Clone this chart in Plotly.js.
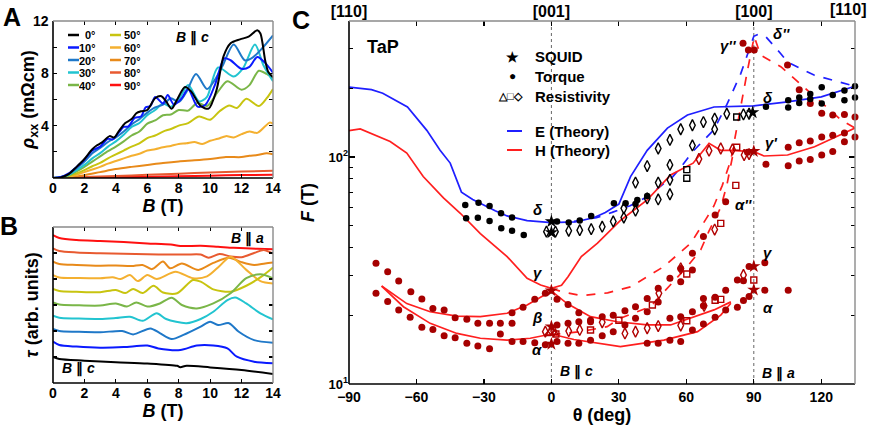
<!DOCTYPE html>
<html><head><meta charset="utf-8">
<script src="https://cdn.plot.ly/plotly-3.0.1.min.js"></script>
<style>html,body{margin:0;padding:0;background:#fff}#chart{width:872px;height:428px}</style>
</head><body><div id="chart"></div>
<script>
// ===== Panel A: rho_xx vs B for field angles =====
const angleLabels = ['0°','10°','20°','30°','40°','50°','60°','70°','80°','90°'];
const angleColors = ['#000000','#0a1aff','#1f78c8','#22c4d0','#7ab648','#c8c410','#f4b030','#e88a1a','#e85a30','#ff1010'];

const A_B_0 = [0,0.5,1,1.5,2,2.5,2.8,3.1,3.6,3.9,4.2,4.6,5.0,5.3,5.6,6.0,6.5,6.9,7.2,7.55,7.9,8.4,8.8,9.4,9.9,10.4,10.85,11.3,11.9,12.45,13.0,13.2,13.5,13.7,14.0];
const A_rho_0 = [0,0.05,0.3,0.85,1.45,2.2,2.5,2.7,3.2,3.1,3.6,4.2,4.5,4.95,5.1,5.2,6.1,6.25,5.85,5.3,6.0,6.95,6.6,5.5,5.3,6.7,9.3,10.3,10.6,10.8,11.3,11.05,9.0,8.1,7.7];
const A_B_10 = [0,0.5,1,1.5,2,2.5,3.0,3.5,3.8,4.2,4.5,4.8,5.2,5.6,5.9,6.2,6.5,7.0,7.3,7.7,8.2,8.6,9.2,9.7,10.3,10.9,11.3,12.0,12.5,13.0,13.5,14.0];
const A_rho_10 = [0,0.08,0.35,0.85,1.4,2.1,2.4,3.0,2.95,3.5,3.9,3.95,4.6,4.7,5.4,5.5,6.2,5.7,6.35,5.6,6.1,6.8,5.45,5.6,7.1,9.15,9.0,8.35,8.5,9.25,8.8,8.05];
const A_B_20 = [0,0.5,1,1.5,2,2.5,3,3.5,4,4.5,5,5.5,6,6.5,7,7.5,8,8.5,9.1,9.8,10.3,10.8,11.5,12.2,12.7,13.3,14];
const A_rho_20 = [0,0.07,0.3,0.75,1.25,1.9,2.3,2.75,3.1,3.55,4.1,4.5,5.0,5.4,5.6,6.1,5.8,6.6,7.95,6.8,7.5,8.6,10.2,9.0,9.2,9.9,10.9];
const A_B_30 = [0,0.5,1,1.5,2,2.5,3,3.5,4,4.5,5,5.5,6,6.5,7,7.5,8.1,8.6,9.3,9.8,10.5,11.5,12.1,12.85,13.4,14];
const A_rho_30 = [0,0.05,0.25,0.6,1.0,1.5,1.9,2.4,2.8,3.3,3.9,4.2,4.8,5.2,5.7,5.45,6.2,7.1,5.85,6.2,8.45,7.75,8.4,10.2,8.6,7.4];
const A_B_40 = [0,0.5,1,1.5,2,2.5,3,3.5,4,4.5,5,5.5,6,6.5,7,7.5,8,8.6,9.2,9.8,10.5,11.1,12.0,12.5,13.1,13.6,14];
const A_rho_40 = [0,0.04,0.2,0.5,0.85,1.25,1.65,2.05,2.4,2.8,3.25,3.55,4.15,4.4,4.8,4.85,5.2,5.15,5.75,5.5,6.6,7.4,6.75,7.1,8.2,7.95,7.6];
const A_B_50 = [0,0.5,1,1.5,2,2.5,3,3.5,4,4.5,5,5.5,6,6.5,7,7.5,8,8.6,9.3,10,10.6,11.2,11.7,12.3,13.1,13.6,14];
const A_rho_50 = [0,0.03,0.15,0.35,0.6,0.9,1.15,1.5,1.8,2.1,2.4,2.65,3.05,3.25,3.55,3.75,4.0,4.2,4.7,4.45,5.1,5.55,5.35,6.05,5.5,6.1,6.8];
const A_B_60 = [0,0.5,1,1.5,2,2.5,3,3.5,4,4.5,5,5.5,6,6.5,7,7.5,8,8.5,9,9.5,10,10.5,11,11.5,12,12.5,13,13.5,13.8,14];
const A_rho_60 = [0,0.02,0.1,0.25,0.45,0.65,0.85,1.1,1.3,1.5,1.7,1.85,2.1,2.2,2.35,2.45,2.6,2.65,2.75,2.6,2.85,3.0,3.2,3.1,3.35,3.55,3.45,3.95,4.25,4.15];
const A_B_70 = [0,1,2,3,4,5,6,7,8,9,10,11,12,12.5,13,13.6,14];
const A_rho_70 = [0,0.05,0.22,0.45,0.68,0.85,1.0,1.15,1.27,1.35,1.45,1.6,1.6,1.7,1.75,1.9,1.82];
const A_B_80 = [0,2,4,6,8,10,12,14];
const A_rho_80 = [0,0.07,0.15,0.25,0.33,0.42,0.5,0.55];
const A_B_90 = [0,2,4,6,8,10,12,14];
const A_rho_90 = [0,0.04,0.07,0.1,0.14,0.18,0.22,0.25];
const A_yRange = [0, 12];
const A_yLabelTicks = [4,8,12];
const A_yMinorTicks = [2,6,10];

// ===== Panel B: torque (offset curves, arb. units) =====
const T_B_0 = [0,0.4,2,4,6,7.9,8.1,8.5,10,12,14];
const T_0 = [1.0,0.92,0.86,0.80,0.75,0.66,0.61,0.66,0.60,0.50,0.35];
const T_B_10 = [0,0.4,1.5,3,4.5,6,6.7,8.1,9.15,10.2,11.1,11.7,12.8,14];
const T_10 = [1.59,1.46,1.40,1.36,1.38,1.44,1.33,1.27,1.44,1.44,1.33,1.01,0.82,0.76];
const T_B_20 = [0,0.4,1.5,3,4.4,5.1,6.2,6.8,7.55,8.3,9.4,10.0,10.5,11.2,11.8,12.8,14];
const T_20 = [2.08,2.0,1.97,1.95,2.0,1.87,2.10,1.92,1.69,1.85,2.17,2.36,2.23,2.30,1.98,1.65,1.55];
const T_B_30 = [0,0.4,1.5,3,4.0,4.9,5.7,6.6,7.2,8.5,9.4,10.2,11.1,11.6,12.3,13.2,14];
const T_30 = [2.59,2.51,2.48,2.46,2.50,2.55,2.39,2.68,2.46,2.30,2.46,2.74,3.19,3.29,3.06,2.68,2.45];
const T_B_40 = [0,0.4,1.5,3,4.0,4.7,5.3,6.0,6.8,7.55,8.2,9.15,10.2,11.3,12.3,13.2,14];
const T_40 = [3.10,3.02,2.99,2.98,3.06,2.94,3.10,2.94,3.06,3.28,3.0,2.87,3.06,3.45,4.03,4.18,4.03];
const T_B_50 = [0,0.4,1.5,3,4.0,4.6,5.1,5.7,6.4,7.0,7.9,8.9,9.4,10.2,11.3,12.3,13.4,14];
const T_50 = [3.62,3.54,3.51,3.49,3.58,3.46,3.62,3.46,3.74,3.48,3.45,3.96,3.90,3.60,3.51,3.74,4.15,4.44];
const T_B_60 = [0,0.4,1.5,3,3.8,4.3,4.9,5.4,6.0,6.6,7.8,8.9,9.8,10.6,11.3,12.3,13.2,14];
const T_60 = [4.15,4.06,4.04,4.03,4.07,4.0,4.15,3.92,4.15,4.0,4.28,4.03,4.1,4.5,4.86,4.35,3.92,3.83];
const T_B_70 = [0,0.4,1.5,3,4,5,5.7,6.3,7.0,7.45,8.2,9.25,10.2,11.2,12.0,12.8,13.5,14];
const T_70 = [4.67,4.58,4.54,4.51,4.52,4.50,4.54,4.38,4.67,4.41,4.60,4.35,4.62,4.82,4.65,4.54,4.60,4.63];
const T_B_80 = [0,0.4,1.5,3,4.5,6,7.5,8.5,9.4,9.9,10.6,11.3,12,12.8,13.4,14];
const T_80 = [5.18,5.08,5.02,4.99,4.97,4.95,4.94,4.94,4.94,4.82,4.96,4.87,4.84,5.0,5.12,4.98];
const T_B_90 = [0,0.4,1.5,3,4.5,6,7.5,8.1,9.4,10.5,11.5,13,14];
const T_90 = [5.69,5.58,5.50,5.46,5.42,5.37,5.33,5.27,5.28,5.24,5.20,5.16,5.14];

// ===== Panel C: angular dependence of frequencies (theta deg, F tesla) =====
const E_th = [-90,-80,-75,-64,-55.4,-49.5,-45,-40.5,-40,-35,-31.6,-25,-19.7,-10.8,0,10.6,18.8,24,27.7,30,35.2,42.6,51.6,60.5,72.3,80,90,105,120,135];
const E_F  = [203,198,191,166,131,107,94,72,70,65,62.5,58,55,52.4,51.4,51.8,54,57,60,62,82,107,134,153,166,167,168,175,184,205];
const Ed_th = [10,20,27,35,42.6,54,57.5,63,72.3,78,84.2,90,92,95.4,102,105,117,135];
const Ed_F  = [52,54,57,61,66.8,82,90,106,132,170,233,340,347,338,285,262,229,205];
const H_th = [-90,-85,-71.7,-64.3,-57,-48,-40.5,-31.6,-19.7,-10.8,-4.8,0,4.5,7.4,13.3,20.5,30.7,42.6,53,63,70.1,75.3,79.8,90,94.5,105,117,135];
const H_F  = [130.6,133,117,104,82,66,56.5,46,36.4,29.2,27.3,26.4,27.2,29.7,36.4,41.7,52.5,64.7,83.3,93.9,114.8,107,107,105.5,101,102,111,134];
const Hd1_th = [0,4.5,13.3,25,35.2,50,62,66,69.4,72.3,76,79.8,83.5,87.2,90.2,93,102,117,129,135];
const Hd1_F  = [26.4,25.5,24.5,25.2,26.8,32.9,41.7,48,54.6,61,75,97,156,241,339,281,250,184,145,134];
const Hd2_th = [0,13,24.8,30.7,44,50,60.5,66.4,70,75.3,78,80.5];
const Hd2_F  = [16.5,17,17.9,19.5,21.9,25.5,33,39,47,60,75,100];
const Hb_th = [-75.5,-64.3,-53.9,-42,-31.6,-19.7,-10.8,0,7,17.4,29.3,42.6,53,63.4,72.3,79.8];
const Hb_F  = [27,22.6,20.8,19.9,19.8,20.5,22.3,25.7,22.6,19.8,18.8,18.2,18.2,19.8,21.2,23];
const Ha_th = [-75.5,-65.8,-53.9,-42,-31.6,-19.7,-9.4,0,10,24.8,30.7,50,65,75.3,79.8];
const Ha_F  = [27,21.9,18.5,16.7,15.9,15.6,15.9,16.6,15.7,14.9,14.6,15.6,17,20.1,22.7];

const torqueH = [[-78,34],[-72.8,31.2],[-67.9,28.4],[-62.5,25.5],[-57.6,23.7],[-52.7,21.5],[-47.7,21.2],[-42.8,19.6],[-37.6,19.3],[-32.7,18.5],[-27.5,18.5],[-22.7,18.5],[-17.5,18.5],[-17.5,20.6],[-12.6,21.8],[-7.4,23.6],[-2.7,25.1],
 [-78,25.1],[-72.8,23.1],[-67.9,21.2],[-62.8,19.7],[-57.6,17.8],[-52.7,17.4],[-47.7,16.3],[-42.8,16.0],[-37.6,15.1],[-32.7,14.7],[-27.5,14.3],[-22.7,16.6],[-17.5,15.4],[-12.6,15.4],[-7.4,15.2],[-2.7,14.9],
 [2.5,23.6],[7.4,22.4],[12.2,20.6],[17.4,19.1],[2.5,18.2],[7.4,18.5],[12.2,18.8],[17.4,18.8],[2.5,15.4],[7.4,15.1],[12.2,15.1],[17.4,15.6],
 [22.6,19.8],[22.6,16.3],[27.5,20.1],[27.5,17.0],[32.7,21.0],[32.7,18.2],[37.4,21.9],[37.4,19.5],[42.6,23.8],[42.6,20.8],[42.6,15.1],[47.5,26.4],[47.5,23.0],[47.5,15.1],
 [52.7,29.2],[52.7,19.5],[52.7,15.6],[57.5,32.3],[57.5,28.2],[57.5,19.8],[57.5,15.4],[62.7,37.7],[62.7,31.8],[62.7,20.8],[62.7,17.3],[67.6,44.6],[67.6,23.8],[67.6,22.1],[67.6,18.4],
 [72.8,55.5],[72.8,24.1],[72.8,19.7],[77.5,63.5],[77.5,25.9],[77.5,21.2],[82.7,28.7],[82.7,21.8],[85.4,28.5],[85.4,23.3],[87.9,32.9],[87.9,24.3],[94.9,34.2],[94.9,25.9],[105.3,25.9],
 [85.2,317],[87.6,296],[90.2,296],[105,254],[110.2,198],[115.1,172],[120.2,156],[125.1,153],[130.3,154],[135,150],
 [87.2,105],[95.4,93],[105.3,91.4],[110.2,96],[115.1,97.5],[120.2,102],[125.1,105.6],[130.3,116.8],[135,122.5],[105.3,110.3],[110.2,115.5],[115.1,117.7],[120.2,122.5],[125.1,124.6],[130.3,127.5]];
const torqueE = [[-38.3,61.5],[-32.4,62.8],[-27.5,60.8],[-22.4,56.5],[-17.5,54.1],[-37.9,53.7],[-32.7,54],[-27.5,52.3],[-22.3,48.5],[-17.5,47.3],[-12.3,45.3],[2.5,52],[7.7,51.4],[12.6,52.5],[17.7,55],[27.8,62.5],[33,62.5],[38.2,64.7],[37.4,62],[42.6,67.3],
 [95.4,166.5],[105.3,165],[105.3,178],[110.2,183],[110.2,173],[115.1,189.6],[115.1,180],[120.2,203],[120.2,172],[125.1,187.7],[130.3,196.5],[130.3,178],[135,205],[135,183]];
const squidE = [[0,52],[0,46.5],[89.5,157]];
const squidH = [[0,25.8],[0,17.9],[0,15],[90,106],[90,33],[90,26]];
const resDiaE = [[-2.2,46.9],[1.8,46.9],[7.7,47.3],[12.6,47.6],[17.7,48.1],[22.6,49.3],[27.5,52],[32.2,54.1],[32.2,59.4],[37.4,58],[37.4,77.1],[42.6,91.2],[42.6,65.7],[47.5,109],[47.5,77.1],[47.5,65],[52.7,118.9],[52.7,92.3],[52.7,79.3],[52.7,68.5],[57.5,132.5],[62.7,138],[62.7,112.4],[67.6,142.5],[72.6,147.6],[72.6,132.5],[78,155],[85.4,154],[87.9,155]];
const resSqE = [[60.2,88],[60.2,80.6],[82.4,150]];
const resDiaH = [[65.6,98],[70.1,106.6],[75.3,109],[80.5,108],[85.7,102],[87.9,103],[72.6,47.9],[57.5,32.3],[47.8,25.1],[32.7,16.7],[37.4,17],[42.6,17.6],[47.5,18],[57.5,18.1],[67.9,22.1],[85.4,30.2],[-2.7,17],[1,17.1],[7.7,17.1],[12.6,17.3],[22.6,18.7]];
const resSqH = [[82.4,110.4],[82,75],[75.3,51],[60.2,30.5],[44.9,22.3],[60.2,19],[72.8,23.4],[75.3,23.6],[90,28.7],[17.4,17.3],[30,19.1],[2,16.6]];
const resTriH = [[-1.5,16.6],[1.5,16.8]];

const C_yLabelTicks = [10,100];
const C_yLabelText = ['10<sup>1</sup>','10<sup>2</sup>'];
const C_yMinorTicks = [20,30,40,50,60,70,80,90,200,300];
const topDirTicks = [-90,0,90];
const topDirLabels = ['[110]','[001]','[100]'];

// ===== build =====
const FONT = 'Liberation Sans, Arial, sans-serif';
const traces = [];
const Acurves = [[A_B_0,A_rho_0],[A_B_10,A_rho_10],[A_B_20,A_rho_20],[A_B_30,A_rho_30],[A_B_40,A_rho_40],[A_B_50,A_rho_50],[A_B_60,A_rho_60],[A_B_70,A_rho_70],[A_B_80,A_rho_80],[A_B_90,A_rho_90]];
const Bcurves = [[T_B_0,T_0],[T_B_10,T_10],[T_B_20,T_20],[T_B_30,T_30],[T_B_40,T_40],[T_B_50,T_50],[T_B_60,T_60],[T_B_70,T_70],[T_B_80,T_80],[T_B_90,T_90]];
for (let i = 9; i >= 0; i--) {
  traces.push({x:Acurves[i][0], y:Acurves[i][1], xaxis:'x', yaxis:'y', mode:'lines', name:angleLabels[i],
    line:{color:angleColors[i], width:2, shape:'spline', smoothing:0.8}, showlegend:false, hoverinfo:'skip'});
}
for (let i = 9; i >= 0; i--) {
  traces.push({x:Bcurves[i][0], y:Bcurves[i][1], xaxis:'x2', yaxis:'y2', mode:'lines', name:angleLabels[i],
    line:{color:angleColors[i], width:2, shape:'spline', smoothing:0.8}, showlegend:false, hoverinfo:'skip'});
}
const BLUE = '#1f1fff', RED = '#ff1f1f', DRED = '#a60000';
function lineC(th, F, color, dash) {
  traces.push({x:th, y:F, xaxis:'x3', yaxis:'y3', mode:'lines', line:{color:color, width:1.7, dash:dash}, showlegend:false, hoverinfo:'skip'});
}
lineC(E_th, E_F, BLUE, 'solid');
lineC(Ed_th, Ed_F, BLUE, 'dash');
lineC(H_th, H_F, RED, 'solid');
lineC(Hd1_th, Hd1_F, RED, 'dash');
lineC(Hd2_th, Hd2_F, RED, 'dash');
lineC(Hb_th, Hb_F, RED, 'solid');
lineC(Ha_th, Ha_F, RED, 'solid');
function ptsC(arr, symbol, color, size, lw) {
  traces.push({x:arr.map(p=>p[0]), y:arr.map(p=>p[1]), xaxis:'x3', yaxis:'y3', mode:'markers',
    marker:{symbol:symbol, color:color, size:size, line:{color:color, width:lw||0}}, showlegend:false, hoverinfo:'skip', cliponaxis:false});
}
ptsC(torqueH, 'circle', DRED, 7);
ptsC(torqueE, 'circle', '#000', 6.5);
ptsC(resDiaE, 'diamond-tall-open', '#000', 8, 1.4);
ptsC(resSqE, 'square-open', '#000', 6, 1.4);
ptsC(resDiaH, 'diamond-tall-open', '#b00000', 8, 1.4);
ptsC(resSqH, 'square-open', '#b00000', 6, 1.4);
ptsC(resTriH, 'triangle-up-open', '#b00000', 6, 1.4);
ptsC(squidE, 'star', '#000', 10);
ptsC(squidH, 'star', DRED, 10);
traces.push({x:[null], y:[null], xaxis:'x4', yaxis:'y3', mode:'markers', showlegend:false, hoverinfo:'skip'});

const tickF = {family:FONT, size:14, color:'#000', weight:'bold'};
const titleF = {family:FONT, size:18, color:'#000', weight:'bold'};
const minorBase = {ticks:'inside', ticklen:3, tickwidth:1, tickcolor:'#000', showgrid:false};
const baseAx = {showgrid:false, zeroline:false, showline:false, ticks:'inside', ticklen:4, tickwidth:1.2, tickcolor:'#000', mirror:'ticks', tickfont:tickF, ticklabeloverflow:'allow'};

const W = 872, Hh = 428;
const px = v => v / W, py = v => 1 - v / Hh;
const A_yDomain = [py(178), py(21)];

const layout = {
  width:W, height:Hh, margin:{l:0,r:0,t:0,b:0}, paper_bgcolor:'#fff', plot_bgcolor:'rgba(0,0,0,0)',
  font:{family:FONT, color:'#000'}, showlegend:false,
  xaxis: Object.assign({}, baseAx, {domain:[px(53), px(273)], anchor:'y', range:[0,14], tickvals:[0,2,4,6,8,10,12,14],
    title:{text:'<i>B</i> (T)', font:titleF, standoff:2}}),
  yaxis: Object.assign({}, baseAx, {domain:A_yDomain, anchor:'x', range:A_yRange, tickmode:'array', tickvals:A_yLabelTicks,
    showticklabels:false,
    minor:Object.assign({tickvals:A_yMinorTicks}, minorBase, {ticklen:4}),
    title:{text:'<i>ρ</i><sub>xx</sub> (mΩcm)', font:titleF, standoff:12}}),
  xaxis2: Object.assign({}, baseAx, {domain:[px(53), px(273)], anchor:'y2', range:[0,14], tickvals:[0,2,4,6,8,10,12,14],
    title:{text:'<i>B</i> (T)', font:titleF, standoff:2}}),
  yaxis2: Object.assign({}, baseAx, {domain:[py(383), py(227)], anchor:'x2', range:[0,6], tickvals:[1,2,3,4,5],
    showticklabels:false, title:{text:'<i>τ</i> (arb. units)', font:titleF, standoff:8}}),
  xaxis3: Object.assign({}, baseAx, {domain:[px(349), px(855)], anchor:'y3', range:[-90,135], tickvals:[-90,-60,-30,0,30,60,90,120],
    ticklen:5, ticklabelstandoff:3, title:{text:'θ (deg)', font:titleF, standoff:3}}),
  yaxis3: Object.assign({}, baseAx, {domain:[py(384), py(21)], anchor:'x3', type:'log', range:[1, 2.599], ticklen:6,
    tickmode:'array', tickvals:C_yLabelTicks, ticktext:C_yLabelText,
    minor:Object.assign({tickvals:C_yMinorTicks}, minorBase, {ticklen:4}),
    tickfont:{family:FONT, size:13, color:'#000', weight:'bold'}, title:{text:'<i>F</i> (T)', font:titleF, standoff:9}}),
  xaxis4: {overlaying:'x3', anchor:'y3', side:'top', range:[-90,135], showgrid:false, zeroline:false, showline:false,
    ticks:'', tickmode:'array', tickvals:topDirTicks, ticktext:topDirLabels, ticklabeloverflow:'allow',
    tickfont:{family:FONT, size:16, color:'#000', weight:'bold'}},
  shapes: [],
  annotations: []
};

// y tick labels of panel A: value mapped through the axis range onto its domain, just left of the axis
A_yLabelTicks.forEach(v => {
  const frac = (v - A_yRange[0]) / (A_yRange[1] - A_yRange[0]);
  const yp = A_yDomain[0] + frac * (A_yDomain[1] - A_yDomain[0]);
  layout.annotations.push({text:'<b>' + v + '</b>', xref:'paper', x:px(51), xanchor:'right',
    yref:'paper', y:yp, yanchor:'middle', showarrow:false, font:{family:FONT, size:14, color:'#000'}});
});

// frames: left/bottom black, top/right grey
[['x','y'],['x2','y2'],['x3','y3']].forEach(([xa,ya]) => {
  const xr = xa + ' domain', yr = ya + ' domain';
  layout.shapes.push({type:'line', xref:xr, yref:yr, x0:0, x1:0, y0:0, y1:1, line:{color:'#000', width:1.6}});
  layout.shapes.push({type:'line', xref:xr, yref:yr, x0:0, x1:1, y0:0, y1:0, line:{color:'#000', width:1.6}});
  layout.shapes.push({type:'line', xref:xr, yref:yr, x0:0, x1:1, y0:1, y1:1, line:{color:'#8a8a8a', width:1.4}});
  layout.shapes.push({type:'line', xref:xr, yref:yr, x0:1, x1:1, y0:0, y1:1, line:{color:'#8a8a8a', width:1.4}});
});
// reference directions in C
[0, 90].forEach(v => layout.shapes.push({type:'line', xref:'x3', yref:'y3 domain', x0:v, x1:v, y0:0, y1:1, layer:'below',
  line:{color:'#666', width:1, dash:'dot'}}));

const ann = (text, x, y, size, opts) => layout.annotations.push(Object.assign({text:text, x:x, y:y, xref:'paper', yref:'paper',
  showarrow:false, font:{family:FONT, size:size, color:'#000', weight:'bold'}, xanchor:'center', yanchor:'middle'}, opts||{}));

// panel letters
ann('A', px(12), py(17), 25);
ann('B', px(9), py(226), 25);
ann('C', px(301), py(20), 25);
// panel A legend (two columns)
const rowsY = [35, 47.5, 60, 72.5, 85];
for (let i = 0; i < 10; i++) {
  const col = Math.floor(i / 5), r = i % 5;
  const lx0 = col ? 110 : 68, lx1 = col ? 121 : 79, tx = col ? 142 : 97;
  layout.shapes.push({type:'line', xref:'paper', yref:'paper', x0:px(lx0), x1:px(lx1), y0:py(rowsY[r]), y1:py(rowsY[r]),
    line:{color:angleColors[i], width:2.5}});
  ann(angleLabels[i], px(tx), py(rowsY[r]), 11, {xanchor:'right', height:11, borderpad:0});
}
ann('<i>B</i> ∥ <i>c</i>', px(192), py(37), 14);
ann('<i>B</i> ∥ <i>a</i>', px(247), py(238), 14);
ann('<i>B</i> ∥ <i>c</i>', px(78), py(368), 14);
// panel C legend
ann('TaP', px(383), py(47), 18);
ann('★', px(512), py(57), 14);
ann('SQUID', px(533), py(57), 15, {xanchor:'left'});
ann('●', px(512), py(76), 12);
ann('Torque', px(533), py(76), 15, {xanchor:'left'});
ann('△□◇', px(511), py(96), 11);
ann('Resistivity', px(533), py(96), 15, {xanchor:'left'});
layout.shapes.push({type:'line', xref:'paper', yref:'paper', x0:px(507), x1:px(522), y0:py(131), y1:py(131), line:{color:BLUE, width:2}});
layout.shapes.push({type:'line', xref:'paper', yref:'paper', x0:px(507), x1:px(522), y0:py(150), y1:py(150), line:{color:RED, width:2}});
ann('E (Theory)', px(533), py(131), 15, {xanchor:'left'});
ann('H (Theory)', px(533), py(150), 15, {xanchor:'left'});
ann('[110]', px(868), py(9), 16, {xanchor:'right'});
// branch labels in C (data coordinates, log axis uses log10)
const cl = (text, th, logF) => layout.annotations.push({text:text, x:th, y:logF, xref:'x3', yref:'y3', showarrow:false,
  font:{family:FONT, size:15, color:'#000', weight:'bold', style:'italic'}});
cl('δ', -5.8, 1.767); cl('γ', -5.8, 1.493); cl('β', -6.2, 1.295); cl('α', -6.2, 1.150);
cl('γ', 96.3, 1.581); cl('α', 96.3, 1.339); cl("α''", 85.5, 1.789); cl("γ'", 97.8, 2.062);
cl('δ', 96.3, 2.264); cl("γ''", 78.4, 2.493); cl("δ''", 102.5, 2.546);
layout.annotations.push({text:'<i>B</i> ∥ <i>c</i>', x:11, y:1.053, xref:'x3', yref:'y3', showarrow:false, font:{family:FONT, size:14, color:'#000', weight:'bold'}});
layout.annotations.push({text:'<i>B</i> ∥ <i>a</i>', x:101, y:1.048, xref:'x3', yref:'y3', showarrow:false, font:{family:FONT, size:14, color:'#000', weight:'bold'}});

Plotly.newPlot('chart', traces, layout, {staticPlot:true, displayModeBar:false});
</script>
</body></html>
